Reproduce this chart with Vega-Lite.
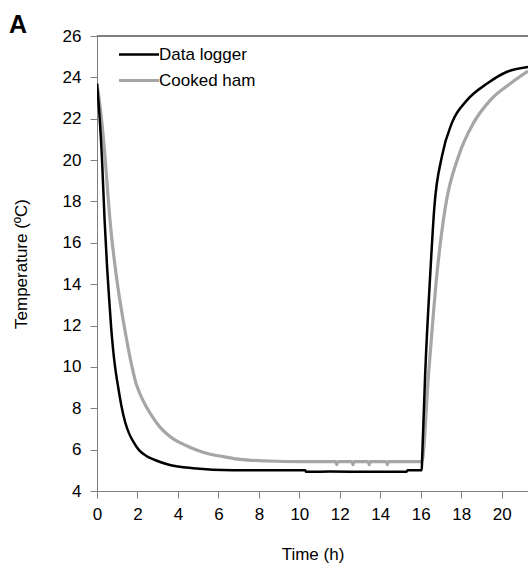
{
  "$schema": "https://vega.github.io/schema/vega-lite/v6.json",
  "width": 431,
  "height": 455,
  "autosize": {"type": "none"},
  "padding": {"left": 97, "top": 36, "right": 0, "bottom": 76},
  "background": "white",
  "config": {
    "font": "Liberation Sans",
    "view": {"stroke": null},
    "axis": {
      "grid": false,
      "domainColor": "#7f7f7f",
      "tickColor": "#7f7f7f",
      "labelColor": "#000000",
      "titleColor": "#000000",
      "labelFontSize": 17,
      "titleFontSize": 17,
      "titleFontWeight": "normal",
      "tickSize": 7,
      "labelFlush": false,
      "labelOverlap": false
    }
  },
  "title": {
    "text": "A",
    "anchor": "start",
    "frame": "bounds",
    "fontSize": 25,
    "fontWeight": "bold",
    "color": "#000000",
    "offset": 0,
    "dx": -3,
    "dy": 11
  },
  "data": {
    "values": [
      {"t": 0, "temp": 23.7, "series": "Cooked ham"},
      {"t": 0.2, "temp": 22.2, "series": "Cooked ham"},
      {"t": 0.41, "temp": 20.0, "series": "Cooked ham"},
      {"t": 0.55, "temp": 18.2, "series": "Cooked ham"},
      {"t": 0.7, "temp": 16.5, "series": "Cooked ham"},
      {"t": 0.85, "temp": 15.2, "series": "Cooked ham"},
      {"t": 1.04, "temp": 13.8, "series": "Cooked ham"},
      {"t": 1.34, "temp": 12.0, "series": "Cooked ham"},
      {"t": 1.73, "temp": 10.0, "series": "Cooked ham"},
      {"t": 1.9, "temp": 9.3, "series": "Cooked ham"},
      {"t": 2.1, "temp": 8.75, "series": "Cooked ham"},
      {"t": 2.45, "temp": 8.05, "series": "Cooked ham"},
      {"t": 2.8, "temp": 7.5, "series": "Cooked ham"},
      {"t": 3.1, "temp": 7.1, "series": "Cooked ham"},
      {"t": 3.5, "temp": 6.72, "series": "Cooked ham"},
      {"t": 3.85, "temp": 6.47, "series": "Cooked ham"},
      {"t": 4.4, "temp": 6.2, "series": "Cooked ham"},
      {"t": 4.92, "temp": 5.98, "series": "Cooked ham"},
      {"t": 5.5, "temp": 5.8, "series": "Cooked ham"},
      {"t": 6.24, "temp": 5.66, "series": "Cooked ham"},
      {"t": 7.06, "temp": 5.53, "series": "Cooked ham"},
      {"t": 8.5, "temp": 5.45, "series": "Cooked ham"},
      {"t": 10.0, "temp": 5.42, "series": "Cooked ham"},
      {"t": 11.8, "temp": 5.42, "series": "Cooked ham"},
      {"t": 11.85, "temp": 5.28, "series": "Cooked ham"},
      {"t": 11.9, "temp": 5.42, "series": "Cooked ham"},
      {"t": 12.6, "temp": 5.42, "series": "Cooked ham"},
      {"t": 12.65, "temp": 5.28, "series": "Cooked ham"},
      {"t": 12.7, "temp": 5.42, "series": "Cooked ham"},
      {"t": 13.4, "temp": 5.42, "series": "Cooked ham"},
      {"t": 13.45, "temp": 5.28, "series": "Cooked ham"},
      {"t": 13.5, "temp": 5.42, "series": "Cooked ham"},
      {"t": 14.3, "temp": 5.42, "series": "Cooked ham"},
      {"t": 14.35, "temp": 5.28, "series": "Cooked ham"},
      {"t": 14.4, "temp": 5.42, "series": "Cooked ham"},
      {"t": 16.05, "temp": 5.42, "series": "Cooked ham"},
      {"t": 16.39, "temp": 9.7, "series": "Cooked ham"},
      {"t": 16.8, "temp": 14.5, "series": "Cooked ham"},
      {"t": 17.21, "temp": 17.7, "series": "Cooked ham"},
      {"t": 17.87, "temp": 20.2, "series": "Cooked ham"},
      {"t": 18.61, "temp": 21.8, "series": "Cooked ham"},
      {"t": 19.44, "temp": 22.9, "series": "Cooked ham"},
      {"t": 20.43, "temp": 23.7, "series": "Cooked ham"},
      {"t": 21.3, "temp": 24.3, "series": "Cooked ham"},
      {"t": 0, "temp": 23.7, "series": "Data logger"},
      {"t": 0.12, "temp": 22.2, "series": "Data logger"},
      {"t": 0.25, "temp": 20.0, "series": "Data logger"},
      {"t": 0.37, "temp": 17.2, "series": "Data logger"},
      {"t": 0.5, "temp": 14.8, "series": "Data logger"},
      {"t": 0.6, "temp": 13.3, "series": "Data logger"},
      {"t": 0.7, "temp": 11.9, "series": "Data logger"},
      {"t": 0.8, "temp": 10.8, "series": "Data logger"},
      {"t": 0.9, "temp": 9.95, "series": "Data logger"},
      {"t": 1.0, "temp": 9.3, "series": "Data logger"},
      {"t": 1.1, "temp": 8.7, "series": "Data logger"},
      {"t": 1.2, "temp": 8.15, "series": "Data logger"},
      {"t": 1.4, "temp": 7.3, "series": "Data logger"},
      {"t": 1.6, "temp": 6.75, "series": "Data logger"},
      {"t": 1.8, "temp": 6.38, "series": "Data logger"},
      {"t": 2.1, "temp": 5.95, "series": "Data logger"},
      {"t": 2.4, "temp": 5.72, "series": "Data logger"},
      {"t": 2.86, "temp": 5.5, "series": "Data logger"},
      {"t": 3.6, "temp": 5.26, "series": "Data logger"},
      {"t": 4.75, "temp": 5.1, "series": "Data logger"},
      {"t": 6.7, "temp": 5.0, "series": "Data logger"},
      {"t": 10.3, "temp": 5.0, "series": "Data logger"},
      {"t": 10.33, "temp": 4.93, "series": "Data logger"},
      {"t": 11.5, "temp": 4.94, "series": "Data logger"},
      {"t": 13.0, "temp": 4.93, "series": "Data logger"},
      {"t": 15.3, "temp": 4.93, "series": "Data logger"},
      {"t": 15.35, "temp": 5.0, "series": "Data logger"},
      {"t": 16.05, "temp": 5.0, "series": "Data logger"},
      {"t": 16.07, "temp": 5.6, "series": "Data logger"},
      {"t": 16.22, "temp": 9.7, "series": "Data logger"},
      {"t": 16.47, "temp": 14.5, "series": "Data logger"},
      {"t": 16.67, "temp": 17.7, "series": "Data logger"},
      {"t": 17.05, "temp": 20.2, "series": "Data logger"},
      {"t": 17.54, "temp": 21.8, "series": "Data logger"},
      {"t": 18.29, "temp": 22.9, "series": "Data logger"},
      {"t": 19.28, "temp": 23.7, "series": "Data logger"},
      {"t": 20.27, "temp": 24.27, "series": "Data logger"},
      {"t": 21.3, "temp": 24.5, "series": "Data logger"}
    ]
  },
  "layer": [
    {
      "mark": {"type": "rule", "color": "#7f7f7f", "strokeWidth": 1},
      "encoding": {"y": {"datum": 26, "type": "quantitative", "scale": {"domain": [4, 26], "nice": false, "zero": false}}}
    },
    {
      "mark": {"type": "line", "clip": true, "interpolate": "monotone"},
      "encoding": {
        "x": {
          "field": "t",
          "type": "quantitative",
          "scale": {"domain": [0, 21.3], "nice": false},
          "axis": {"title": "Time (h)", "values": [0, 2, 4, 6, 8, 10, 12, 14, 16, 18, 20], "labelPadding": 8, "titlePadding": 24}
        },
        "y": {
          "field": "temp",
          "type": "quantitative",
          "scale": {"domain": [4, 26], "nice": false, "zero": false},
          "axis": {"title": "Temperature (ºC)", "values": [4, 6, 8, 10, 12, 14, 16, 18, 20, 22, 24, 26], "labelPadding": 9, "titlePadding": 32}
        },
        "color": {
          "field": "series",
          "type": "nominal",
          "scale": {"domain": ["Data logger", "Cooked ham"], "range": ["#000000", "#a6a6a6"]},
          "legend": {
            "title": null,
            "orient": "none",
            "legendX": 20,
            "legendY": 10,
            "symbolType": "stroke",
            "symbolSize": 1600,
            "symbolStrokeWidth": 3,
            "clipHeight": 17,
            "labelFontSize": 17,
            "labelColor": "#000000",
            "labelOffset": -2,
            "rowPadding": 8,
            "padding": 0
          }
        },
        "strokeWidth": {
          "field": "series",
          "type": "nominal",
          "scale": {"domain": ["Data logger", "Cooked ham"], "range": [2.5, 3.2]},
          "legend": null
        }
      }
    }
  ]
}
